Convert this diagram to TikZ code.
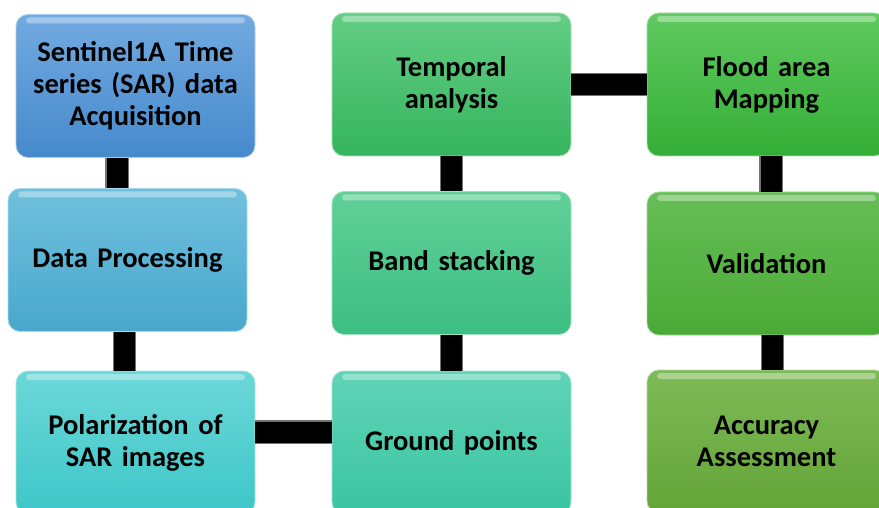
\documentclass[tikz,border=0pt]{standalone}
\usepackage{fontspec}
\setmainfont{Carlito}
\tikzset{
  stepbox/.style args={#1/#2}{rounded corners=12pt, top color=#1, bottom color=#2,
    draw=#1!60!white, line width=0.8pt,
    minimum width=239pt, minimum height=143pt, inner sep=0pt,
    text width=232pt, align=center,
    font=\fontsize{28.5}{32}\selectfont\bfseries,
    path picture={\fill[white,opacity=.35,rounded corners=3pt]
      ([xshift=10pt,yshift=-3pt]path picture bounding box.north west) rectangle
      ([xshift=-10pt,yshift=-9pt]path picture bounding box.north east);}},
  pipe/.style={draw=black!55, line width=1.2pt, double=black, double distance=21pt}
}
\definecolor{acqA}{RGB}{114,170,224}\definecolor{acqB}{RGB}{70,138,204}
\definecolor{procA}{RGB}{112,192,222}\definecolor{procB}{RGB}{72,168,204}
\definecolor{polA}{RGB}{108,216,216}\definecolor{polB}{RGB}{62,198,200}
\definecolor{tempA}{RGB}{100,206,132}\definecolor{tempB}{RGB}{54,180,94}
\definecolor{bandA}{RGB}{96,208,152}\definecolor{bandB}{RGB}{60,190,130}
\definecolor{groundA}{RGB}{96,212,182}\definecolor{groundB}{RGB}{58,196,160}
\definecolor{floodA}{RGB}{96,202,96}\definecolor{floodB}{RGB}{52,174,54}
\definecolor{validA}{RGB}{102,190,86}\definecolor{validB}{RGB}{74,170,54}
\definecolor{accurA}{RGB}{126,186,86}\definecolor{accurB}{RGB}{100,164,56}
\begin{document}
\begin{tikzpicture}[x=1pt,y=-1pt]
\useasboundingbox (0,0) rectangle (879,508);
% first column
\node[stepbox=acqA/acqB] (acq) at (135.5,86) {Sentinel1A Time\\ series (SAR) data\\ Acquisition};
\node[stepbox=procA/procB] (proc) at (127.5,260) {Data Processing};
\node[stepbox=polA/polB] (pol) at (135.5,442.5) {Polarization of\\ SAR images};
% second column
\node[stepbox=tempA/tempB] (temp) at (451.5,84.5) {Temporal\\ analysis};
\node[stepbox=bandA/bandB] (band) at (451.5,263) {Band stacking};
\node[stepbox=groundA/groundB] (ground) at (451.5,442.5) {Ground points};
% third column
\node[stepbox=floodA/floodB] (flood) at (766.5,84.5) {Flood area\\ Mapping};
\node[stepbox=validA/validB] (valid) at (766.5,263.5) {Validation};
\node[stepbox=accurA/accurB] (accur) at (766.5,441.5) {Accuracy\\ Assessment};
% connectors
\draw[pipe] ([xshift=-18.5pt]acq.south) -- ([xshift=-10.5pt]proc.north);
\draw[pipe] ([xshift=-3pt]proc.south) -- ([xshift=-11pt]pol.north);
\draw[pipe] ([yshift=10.5pt]pol.east) -- ([yshift=10.5pt]ground.west);
\draw[pipe] (ground.north) -- (band.south);
\draw[pipe] (band.north) -- (temp.south);
\draw[pipe] (temp.east) -- (flood.west);
\draw[pipe] ([xshift=4.5pt]flood.south) -- ([xshift=4.5pt]valid.north);
\draw[pipe] ([xshift=6pt]valid.south) -- ([xshift=6pt]accur.north);
\end{tikzpicture}
\end{document}
